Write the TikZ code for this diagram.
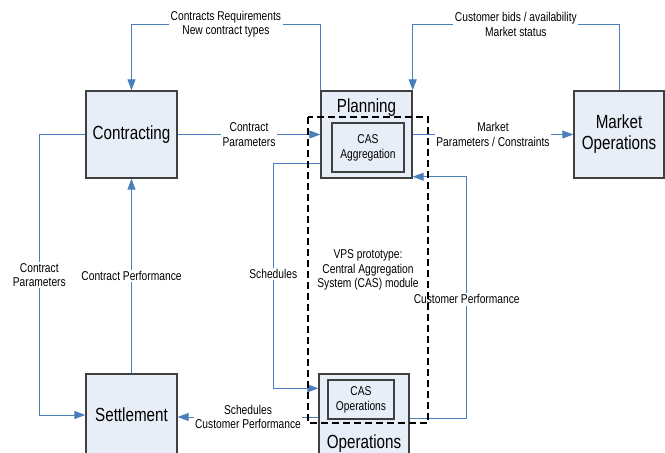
\documentclass[tikz,border=0pt]{standalone}
\usepackage{fontspec}
\setmainfont{Liberation Sans}[FakeStretch=0.8]
\usepackage{tikz}
\usetikzlibrary{arrows.meta, positioning}

\definecolor{boxfill}{HTML}{E8EEF7}
\definecolor{boxline}{HTML}{404040}
\definecolor{flowblue}{HTML}{4A7EBB}

\tikzset{
  block/.style={draw=boxline, fill=boxfill, line width=1.4pt, inner sep=0pt,
    align=center, font=\fontsize{19}{21}\selectfont},
  inblock/.style={draw=boxline, fill=boxfill, line width=1.2pt, inner sep=0pt,
    align=center, font=\fontsize{12.8}{15}\selectfont},
  flow/.style={draw=flowblue, line width=1pt, -{Triangle[length=11pt,width=8pt]}},
  flowlbl/.style={fill=white, inner sep=1.5pt, align=center,
    font=\fontsize{12.8}{14.3}\selectfont},
}

\begin{document}
\begin{tikzpicture}[x=1pt, y=-1pt]
            \useasboundingbox (0,0) rectangle (665,453);
            \clip (0,0) rectangle (665,453);
            % Boxes
            \node[block, minimum width=91pt, minimum height=87pt] (contr) at (131.5,134.5) {Contracting};
            \node[block, minimum width=91pt, minimum height=87pt] (plan) at (366.5,134.5) {};
            \node[font=\fontsize{19}{21}\selectfont] (planlbl) at (366.5,108) {Planning};
            \node[inblock, minimum width=72pt, minimum height=49pt] (casagg) at (368,147.5) {CAS\\Aggregation};
            \node[block, minimum width=90pt, minimum height=87pt] (mkt) at (619,134.5) {Market\\Operations};
            \node[block, minimum width=91pt, minimum height=82pt] (settl) at (131.5,415) {Settlement};
            \node[block, minimum width=90pt, minimum height=82pt] (oper) at (364,415) {};
            \node[font=\fontsize{19}{21}\selectfont] (operlbl) at (364,444) {Operations};
            \node[inblock, minimum width=66pt, minimum height=39pt] (casops) at (361,399.5) {CAS\\Operations};
            % Connectors
            \draw[flow] (plan.north west) -- ++(0,-66) -| (contr.north)
              node[flowlbl, pos=0.25] {Contracts Requirements\\New contract types};
            \draw[flow] (mkt.north) -- ++(0,-66) -| (plan.north east)
              node[flowlbl, pos=0.25] {Customer bids / availability\\Market status};
            \draw[flow] (contr.east) -- (plan.west)
              node[flowlbl, midway] {Contract\\Parameters};
            \draw[flow] (plan.east) -- (mkt.west)
              node[flowlbl, midway] {Market\\Parameters / Constraints};
            \draw[flow] (contr.west) -- ++(-46,0) |- (settl.west)
              node[flowlbl, pos=0.25] {Contract\\Parameters};
            \draw[flow] (settl.north) -- (contr.south)
              node[flowlbl, midway] {Contract Performance};
            \draw[flow] ([yshift=15pt]plan.south west) -- ++(-47,0) |- ([yshift=-15pt]oper.north west)
              node[flowlbl, pos=0.25, yshift=2pt] {Schedules};
            \draw[flow] ([yshift=-3pt]oper.east) -- ++(57,0) |- ([yshift=2pt]plan.south east)
              node[flowlbl, pos=0.25, yshift=-2pt] {Customer Performance};
            \draw[flow] ([yshift=-2pt]oper.west) -- ([yshift=-2pt]settl.east)
              node[flowlbl, midway] {Schedules\\Customer Performance};
            % CAS module outline
            \draw[black, line width=1.8pt, dash pattern=on 7pt off 4pt] (308,117) rectangle (428,423);
            \node[align=center, font=\fontsize{12.8}{14.5}\selectfont] (vps) at (368,270)
              {VPS prototype:\\Central Aggregation\\System (CAS) module};
        \end{tikzpicture}
\end{document}
